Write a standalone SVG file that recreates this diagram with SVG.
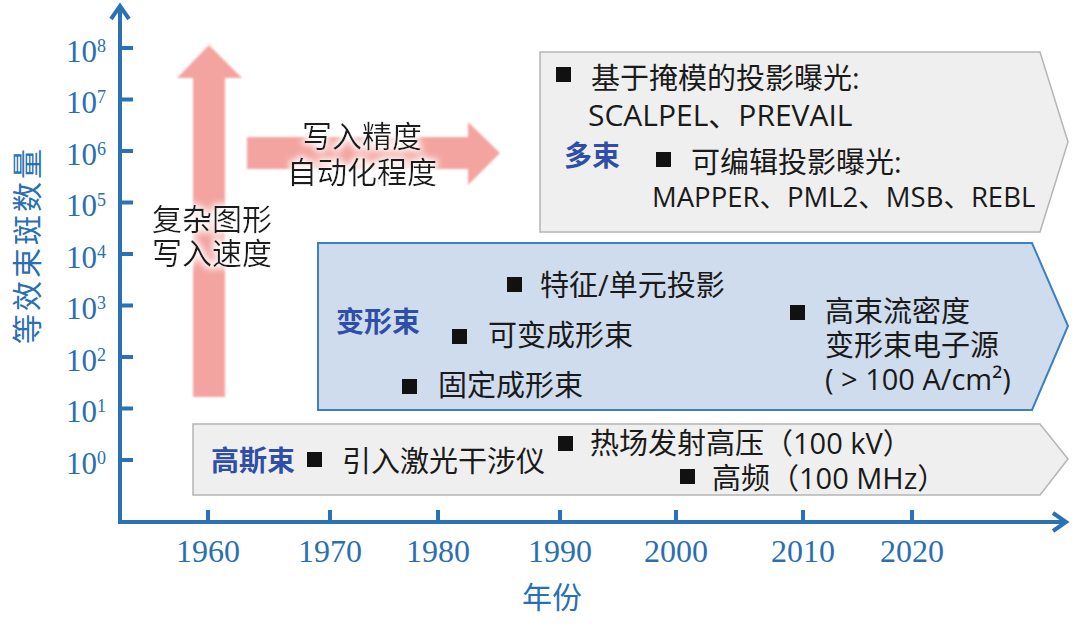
<svg xmlns="http://www.w3.org/2000/svg" width="1080" height="626" viewBox="0 0 1080 626">
<defs>
<filter id="glow" x="-20%" y="-30%" width="140%" height="160%">
  <feMorphology in="SourceAlpha" operator="dilate" radius="2" result="d"/>
  <feGaussianBlur in="d" stdDeviation="3" result="b"/>
  <feFlood flood-color="#ffffff" flood-opacity="0.95"/>
  <feComposite in2="b" operator="in" result="g"/>
  <feMerge><feMergeNode in="g"/><feMergeNode in="SourceGraphic"/></feMerge>
</filter>
<filter id="soft" x="-10%" y="-10%" width="120%" height="120%"><feGaussianBlur stdDeviation="1.2"/></filter>
</defs>
<style>
.ax{stroke:#2a72b5;stroke-width:4;fill:none;stroke-linejoin:miter}
.tick{stroke:#2a72b5;stroke-width:4}
.tl{font-family:"Liberation Serif",serif;font-size:31px;fill:#2a6fb2}
.xl{font-family:"Liberation Serif",serif;font-size:32px;fill:#2a6fb2;text-anchor:middle}
.axt{font-family:"Noto Sans CJK SC",sans-serif;font-size:30px;fill:#2a6fb2;text-anchor:middle}
.cn{font-family:"Open Sans","Noto Sans CJK SC",sans-serif;font-size:29px;fill:#1a1a1a}
.pk{font-family:"Noto Sans CJK SC",sans-serif;font-size:30px;fill:#1a1a1a;text-anchor:middle}
.bl{font-family:"Noto Sans CJK SC",sans-serif;font-size:28px;font-weight:700;fill:#2f4ea6}
.sq{fill:#111111}
.pink{fill:#f3a4a0}
.gray{fill:#efefef;stroke:#b5b5b5;stroke-width:1.5}
.blue{fill:#cfdcee;stroke:#3d7fc0;stroke-width:2}
</style>
<rect width="1080" height="626" fill="#ffffff"/>

<g id="axes">
  <polyline class="ax" points="120,7 120,522 1066,522"/>
  <path class="ax" d="M111,19 L120,6 L129,19"/>
  <path class="ax" d="M1053,513 L1066,522 L1053,531"/>
  <g id="y-ticks">
    <path class="tick" d="M120,48H133 M120,99.5H133 M120,151H133 M120,202.5H133 M120,254H133 M120,305.5H133 M120,357H133 M120,408.5H133 M120,460H133"/>
    <text class="tl" x="66" y="61.5">10<tspan font-size="18" dy="-10">8</tspan></text>
    <text class="tl" x="66" y="113">10<tspan font-size="18" dy="-10">7</tspan></text>
    <text class="tl" x="66" y="164.5">10<tspan font-size="18" dy="-10">6</tspan></text>
    <text class="tl" x="66" y="216">10<tspan font-size="18" dy="-10">5</tspan></text>
    <text class="tl" x="66" y="267.5">10<tspan font-size="18" dy="-10">4</tspan></text>
    <text class="tl" x="66" y="319">10<tspan font-size="18" dy="-10">3</tspan></text>
    <text class="tl" x="66" y="370.5">10<tspan font-size="18" dy="-10">2</tspan></text>
    <text class="tl" x="66" y="422">10<tspan font-size="18" dy="-10">1</tspan></text>
    <text class="tl" x="66" y="473.5">10<tspan font-size="18" dy="-10">0</tspan></text>
  </g>
  <g id="x-ticks">
    <path class="tick" d="M208,522V510 M330,522V510 M438,522V510 M560,522V510 M676,522V510 M803,522V510 M912,522V510"/>
    <text class="xl" x="208" y="562">1960</text>
    <text class="xl" x="330" y="562">1970</text>
    <text class="xl" x="438" y="562">1980</text>
    <text class="xl" x="560" y="562">1990</text>
    <text class="xl" x="676" y="562">2000</text>
    <text class="xl" x="803" y="562">2010</text>
    <text class="xl" x="912" y="562">2020</text>
  </g>
  <text class="axt" x="552" y="608">年份</text>
  <text class="axt" font-size="32" letter-spacing="3" transform="translate(38,245) rotate(-90)">等效束斑数量</text>
</g>

<g id="trend-arrows">
  <polygon class="pink" filter="url(#soft)" points="193,397 193,78 177,78 209,45 242,78 225,78 225,397"/>
  <polygon class="pink" filter="url(#soft)" points="247,137 468,137 468,122 500,153 468,185 468,169 247,169"/>
  <g filter="url(#glow)">
    <text class="pk" x="212" y="230">复杂图形<tspan x="212" dy="34">写入速度</tspan></text>
    <text class="pk" x="362" y="147">写入精度<tspan x="362" dy="36">自动化程度</tspan></text>
  </g>
</g>

<g id="node-multibeam">
  <polygon class="gray" points="540,52 1040,52 1068,142 1040,232 540,232"/>
  <rect class="sq" x="556" y="67" width="15" height="15"/>
  <text class="cn" x="591" y="89">基于掩模的投影曝光:<tspan x="588" y="126" font-size="30">SCALPEL、PREVAIL</tspan></text>
  <text class="bl" x="564" y="166">多束</text>
  <rect class="sq" x="656" y="152" width="15" height="15"/>
  <text class="cn" x="691" y="173">可编辑投影曝光:<tspan x="652" y="207" font-size="27.5">MAPPER、PML2、MSB、REBL</tspan></text>
</g>

<g id="node-shapedbeam">
  <polygon class="blue" points="318,243 1032,243 1068,326 1032,410 318,410"/>
  <text class="bl" x="336" y="332">变形束</text>
  <rect class="sq" x="507" y="277" width="15" height="15"/>
  <text class="cn" x="540" y="296">特征/单元投影</text>
  <rect class="sq" x="452" y="329" width="15" height="15"/>
  <text class="cn" x="488" y="346">可变成形束</text>
  <rect class="sq" x="402" y="379" width="15" height="15"/>
  <text class="cn" x="438" y="396">固定成形束</text>
  <rect class="sq" x="790" y="305" width="15" height="15"/>
  <text class="cn" x="825" y="322">高束流密度<tspan x="825" dy="34">变形束电子源</tspan><tspan x="825" dy="34">( &gt; 100 A/cm²)</tspan></text>
</g>

<g id="node-gaussianbeam">
  <polygon class="gray" points="193,424 1040,424 1068,459 1040,495 193,495"/>
  <text class="bl" x="211" y="471">高斯束</text>
  <rect class="sq" x="307" y="452" width="15" height="15"/>
  <text class="cn" x="342" y="472">引入激光干涉仪</text>
  <rect class="sq" x="558" y="436" width="15" height="15"/>
  <text class="cn" x="590" y="454" font-size="28">热场发射高压（100 kV）</text>
  <rect class="sq" x="680" y="469" width="15" height="15"/>
  <text class="cn" x="712" y="489" font-size="28">高频（100 MHz）</text>
</g>
</svg>
